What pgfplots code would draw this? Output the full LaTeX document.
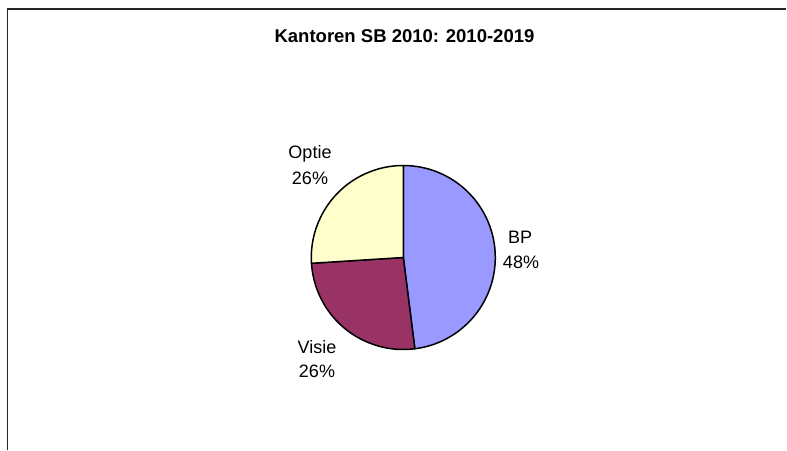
\documentclass[border=0pt]{standalone}
\usepackage{fontspec}
\setmainfont{Liberation Sans}
\usepackage{pgfplots}
\usepackage{pgfplotstable}
\pgfplotsset{compat=1.18}
\definecolor{bpcol}{HTML}{9999FF}
\definecolor{visiecol}{HTML}{993366}
\definecolor{optiecol}{HTML}{FFFFCC}
\pgfplotstableread{
label value
BP 48
Visie 26
Optie 26
}\piedata
\begin{document}
\begin{tikzpicture}
\pgfplotstablegetelem{0}{value}\of\piedata \let\vA\pgfplotsretval
\pgfplotstablegetelem{1}{value}\of\piedata \let\vB\pgfplotsretval
\pgfplotstablegetelem{2}{value}\of\piedata \let\vC\pgfplotsretval
\pgfmathsetmacro\tot{\vA+\vB+\vC}
\pgfmathsetmacro\aA{90}
\pgfmathsetmacro\aB{\aA-(360/\tot)*\vA}
\pgfmathsetmacro\aC{\aB-(360/\tot)*\vB}
\pgfmathsetmacro\aD{\aC-(360/\tot)*\vC}
\def\cx{403.3}
\def\cy{192.5}
\def\rr{92}
\begin{axis}[
  width=787pt, height=450pt, scale only axis,
  xmin=0, xmax=787, ymin=0, ymax=450,
  hide axis, clip=false,
]
\path (axis cs:0,0) rectangle (axis cs:787,450);
% frame
\draw[black!85, line width=1.3pt] (axis cs:7.3,0) -- (axis cs:7.3,441) -- (axis cs:786,441);
% title
\node[anchor=base, font=\bfseries\fontsize{18.5}{22}\selectfont] at (axis cs:404.5,407.5) {Kantoren SB 2010: 2010-2019};
% wedges
\filldraw[fill=bpcol, draw=black, line width=1.5pt, line join=round]
  (axis cs:\cx,\cy) -- (axis cs:{\cx+\rr*cos(\aA)},{\cy+\rr*sin(\aA)}) arc[start angle=\aA, end angle=\aB, radius=\rr] -- cycle;
\filldraw[fill=visiecol, draw=black, line width=1.5pt, line join=round]
  (axis cs:\cx,\cy) -- (axis cs:{\cx+\rr*cos(\aB)},{\cy+\rr*sin(\aB)}) arc[start angle=\aB, end angle=\aC, radius=\rr] -- cycle;
\filldraw[fill=optiecol, draw=black, line width=1.5pt, line join=round]
  (axis cs:\cx,\cy) -- (axis cs:{\cx+\rr*cos(\aC)},{\cy+\rr*sin(\aC)}) arc[start angle=\aC, end angle=\aD, radius=\rr] -- cycle;
% labels
\node[anchor=base, font=\fontsize{18}{22}\selectfont] at (axis cs:310,291) {Optie};
\node[anchor=base, font=\fontsize{18}{22}\selectfont] at (axis cs:310,266) {26\%};
\node[anchor=base, font=\fontsize{18}{22}\selectfont] at (axis cs:520,207) {BP};
\node[anchor=base, font=\fontsize{18}{22}\selectfont] at (axis cs:521,182) {48\%};
\node[anchor=base, font=\fontsize{18}{22}\selectfont] at (axis cs:317,97) {Visie};
\node[anchor=base, font=\fontsize{18}{22}\selectfont] at (axis cs:317,73) {26\%};
\end{axis}
\end{tikzpicture}
\end{document}
